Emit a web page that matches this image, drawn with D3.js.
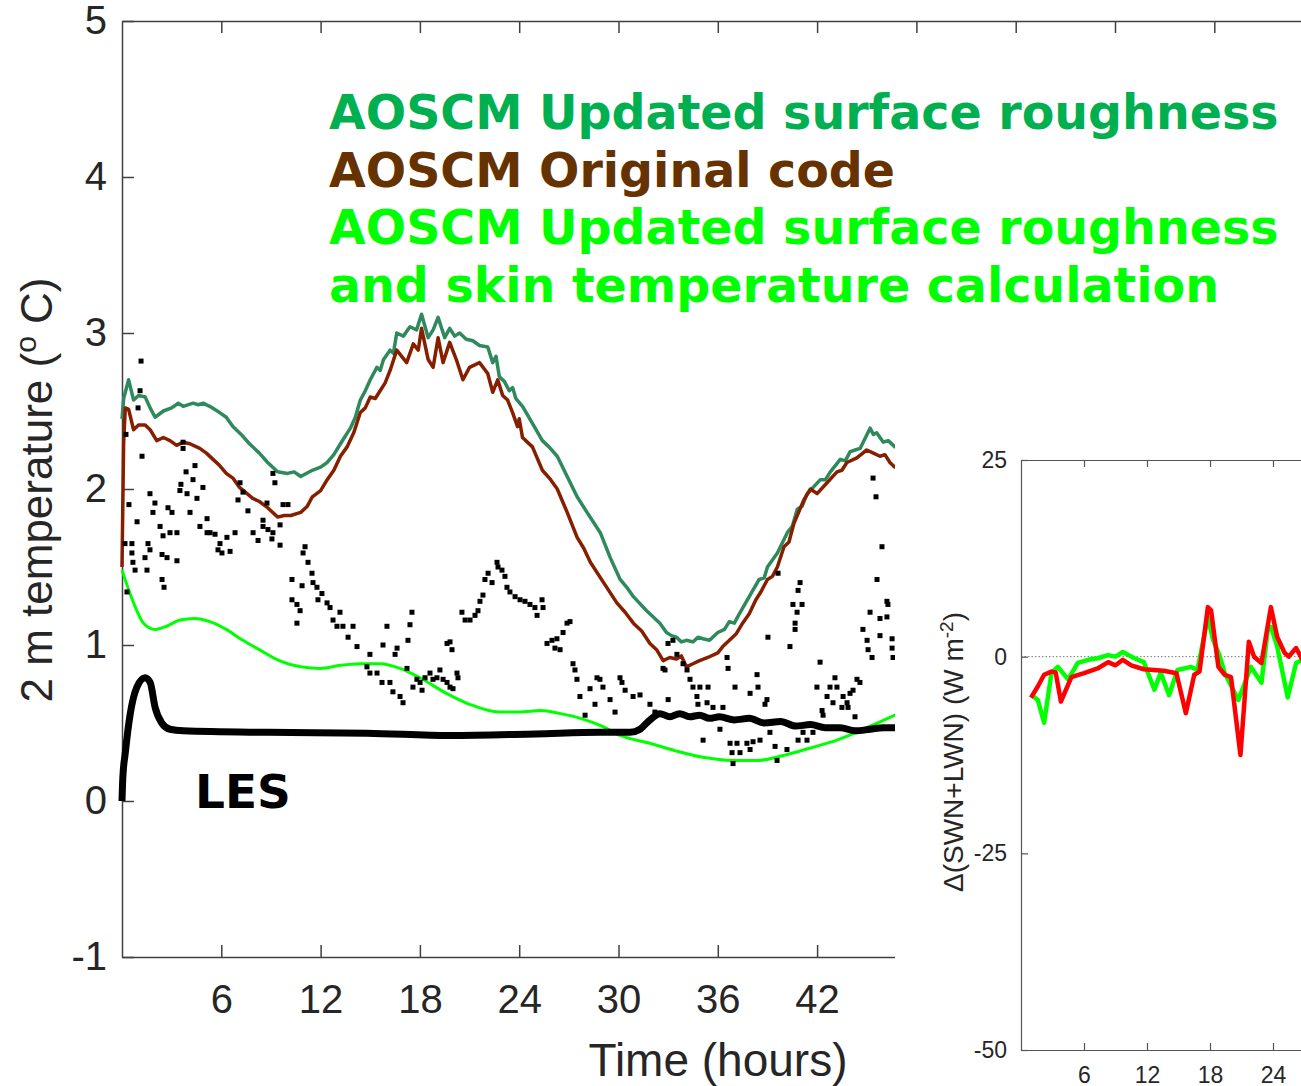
<!DOCTYPE html>
<meta charset="utf-8">

<!-- Load d3.js -->
<script src="https://d3js.org/d3.v7.min.js"></script>

<style>
    body { margin: 0; background: #fff; }
    svg { display: block; }
    .tick text { fill: #262626; }
</style>

<div id="chart"></div>

<script>
    // ---- main panel data: [hours, 2 m temperature (deg C)] ----
    const roughness = [
        [0, 2.45], [0.1, 2.58], [0.4, 2.70], [0.7, 2.57], [1.0, 2.60], [1.4, 2.59], [1.7, 2.52], [2.0, 2.46],
        [2.5, 2.50], [3.0, 2.52], [3.4, 2.55], [3.7, 2.53], [4.3, 2.55], [4.6, 2.54], [4.9, 2.55], [5.3, 2.53],
        [5.9, 2.49], [6.3, 2.46], [6.7, 2.40], [7.2, 2.35], [7.7, 2.29], [8.3, 2.23], [8.8, 2.17], [9.4, 2.11],
        [10.0, 2.10], [10.4, 2.11], [10.8, 2.08], [11.5, 2.12], [12.0, 2.14], [12.4, 2.17], [12.8, 2.22],
        [13.2, 2.29], [13.8, 2.39], [14.1, 2.46], [14.4, 2.57], [14.7, 2.63], [15.0, 2.70], [15.4, 2.78],
        [15.6, 2.76], [15.8, 2.83], [16.2, 2.89], [16.4, 2.87], [16.6, 3.00], [17.0, 2.98], [17.4, 3.04],
        [17.8, 3.02], [18.1, 3.12], [18.5, 2.97], [18.8, 3.02], [19.1, 3.10], [19.5, 2.97], [19.8, 3.03],
        [20.1, 2.98], [20.4, 3.00], [20.8, 2.96], [21.2, 2.95], [21.6, 2.92], [22.1, 2.91], [22.4, 2.81],
        [22.6, 2.85], [22.8, 2.72], [23.1, 2.69], [23.4, 2.63], [23.6, 2.65], [23.8, 2.58], [24.2, 2.53],
        [24.8, 2.42], [25.4, 2.31], [25.8, 2.27], [26.3, 2.21], [26.9, 2.08], [27.5, 1.95], [28.1, 1.85],
        [28.9, 1.72], [29.5, 1.56], [30.1, 1.42], [30.5, 1.37], [30.9, 1.31], [31.7, 1.22], [32.1, 1.18],
        [32.5, 1.14], [32.9, 1.08], [33.2, 1.06], [33.5, 1.05], [33.8, 1.02], [34.1, 1.03], [34.5, 1.02],
        [34.8, 1.05], [35.1, 1.04], [35.5, 1.03], [36.0, 1.08], [36.4, 1.10], [36.7, 1.15], [37.0, 1.14],
        [37.3, 1.20], [37.9, 1.31], [38.5, 1.42], [38.8, 1.43], [39.0, 1.50], [39.6, 1.59], [40.2, 1.72],
        [40.5, 1.76], [40.8, 1.87], [41.1, 1.89], [41.4, 1.97], [42.2, 2.06], [42.5, 2.06], [42.8, 2.11],
        [43.4, 2.19], [43.7, 2.18], [44.0, 2.24], [44.3, 2.25], [44.6, 2.26], [45.2, 2.39], [45.4, 2.35],
        [45.6, 2.36], [46.0, 2.30], [46.3, 2.31], [46.7, 2.27], [47.5, 2.25]
    ];

    const original = [
        [0, 1.50], [0.1, 2.30], [0.2, 2.52], [0.4, 2.51], [0.7, 2.38], [1.0, 2.41], [1.4, 2.41], [1.7, 2.38],
        [2.1, 2.31], [2.5, 2.33], [2.9, 2.31], [3.3, 2.28], [3.7, 2.30], [4.1, 2.29], [4.7, 2.26], [5.1, 2.23],
        [5.5, 2.19], [5.9, 2.15], [6.3, 2.10], [6.7, 2.07], [7.1, 2.01], [7.9, 1.94], [8.3, 1.92], [8.8, 1.88],
        [9.4, 1.82], [9.8, 1.83], [10.2, 1.83], [10.8, 1.85], [11.2, 1.89], [11.5, 1.95], [12.0, 1.99],
        [12.4, 2.06], [12.8, 2.12], [13.2, 2.21], [13.6, 2.27], [14.0, 2.36], [14.4, 2.49], [14.7, 2.52],
        [15.0, 2.59], [15.3, 2.58], [15.6, 2.63], [15.9, 2.68], [16.2, 2.76], [16.6, 2.89], [17.2, 2.81],
        [17.6, 2.93], [17.9, 2.89], [18.1, 3.03], [18.5, 2.83], [18.8, 2.78], [19.1, 2.97], [19.4, 2.81],
        [19.8, 2.94], [20.2, 2.83], [20.6, 2.70], [21.0, 2.78], [21.6, 2.81], [22.1, 2.74], [22.4, 2.62],
        [22.7, 2.70], [23.0, 2.60], [23.3, 2.57], [23.6, 2.49], [23.9, 2.40], [24.0, 2.45], [24.2, 2.33],
        [24.8, 2.27], [25.4, 2.12], [25.9, 2.06], [26.3, 2.00], [26.9, 1.85], [27.5, 1.69], [27.9, 1.62],
        [28.3, 1.53], [29.1, 1.40], [29.9, 1.27], [30.4, 1.21], [30.9, 1.14], [31.4, 1.09], [31.9, 1.01],
        [32.3, 0.97], [32.7, 0.90], [33.1, 0.92], [33.5, 0.91], [33.8, 0.93], [34.1, 0.86], [34.5, 0.88],
        [34.9, 0.90], [35.4, 0.92], [36.0, 0.95], [36.3, 0.99], [36.7, 1.03], [37.1, 1.07], [37.5, 1.14],
        [37.9, 1.20], [38.3, 1.29], [38.6, 1.34], [39.0, 1.42], [39.3, 1.44], [39.6, 1.50], [40.0, 1.63],
        [40.3, 1.66], [40.6, 1.78], [41.2, 1.93], [41.6, 2.00], [42.0, 1.97], [42.6, 2.04], [43.2, 2.11],
        [43.5, 2.12], [43.8, 2.17], [44.4, 2.20], [45.0, 2.25], [45.4, 2.23], [45.8, 2.21], [46.1, 2.22],
        [46.4, 2.17], [46.7, 2.14], [47.5, 2.12]
    ];

    const skinTemp = [
        [0, 1.48], [0.7, 1.27], [1.3, 1.14], [2.0, 1.10], [2.7, 1.12], [3.5, 1.16], [4.4, 1.17], [5.3, 1.15],
        [6.3, 1.10], [7.3, 1.03], [8.3, 0.97], [9.5, 0.90], [10.8, 0.86], [12.0, 0.85], [13.2, 0.87],
        [14.4, 0.88], [15.6, 0.88], [16.8, 0.85], [18.0, 0.79], [19.6, 0.69], [21.0, 0.62], [22.8, 0.57],
        [24.0, 0.57], [25.3, 0.58], [26.5, 0.56], [27.7, 0.53], [29.0, 0.48], [30.1, 0.42], [31.9, 0.37],
        [33.5, 0.32], [35.1, 0.28], [36.9, 0.26], [38.4, 0.26], [39.9, 0.29], [41.6, 0.34], [43.2, 0.39],
        [44.8, 0.46], [46.7, 0.55], [47.5, 0.59]
    ];

    const les = [
        [0, 0.0], [0.05, 0.15], [0.2, 0.31], [0.5, 0.56], [0.9, 0.73], [1.4, 0.79], [1.7, 0.76], [2.0, 0.60],
        [2.4, 0.50], [2.9, 0.46], [3.7, 0.45], [8.8, 0.44], [14.8, 0.435], [19.8, 0.42], [25.0, 0.43],
        [28.9, 0.44], [30.7, 0.44], [31.3, 0.46], [31.9, 0.52], [32.5, 0.56], [33.1, 0.54], [33.7, 0.56],
        [34.3, 0.54], [34.9, 0.55], [35.5, 0.53], [36.1, 0.54], [37.0, 0.52], [37.9, 0.53], [38.8, 0.50],
        [39.8, 0.51], [40.7, 0.48], [41.6, 0.49], [42.5, 0.47], [43.4, 0.47], [44.3, 0.45], [45.2, 0.46],
        [46.0, 0.47], [46.7, 0.47], [47.5, 0.47]
    ];

    // observations (black squares)
    const obs = [
        [1.15, 2.82], [1.09, 2.63], [0.97, 2.52], [1.21, 2.21], [0.24, 2.35], [3.69, 2.26], [3.69, 2.30],
        [4.41, 2.15], [3.87, 2.11], [3.56, 2.03], [4.29, 2.06], [3.93, 1.97], [3.50, 1.99], [4.89, 2.01],
        [4.53, 1.94], [1.69, 1.97], [0.42, 1.90], [1.99, 1.91], [1.87, 1.85], [2.78, 1.88], [3.02, 1.85],
        [4.11, 1.85], [0.91, 1.79], [2.30, 1.76], [2.90, 1.72], [3.32, 1.72], [2.48, 1.70], [5.14, 1.81],
        [4.71, 1.76], [5.14, 1.72], [5.62, 1.71], [6.34, 1.69], [6.83, 1.72], [0.60, 1.65], [1.57, 1.65],
        [5.92, 1.65], [7.13, 2.04], [7.31, 1.98], [7.01, 1.93], [7.61, 1.86], [8.52, 1.80], [8.76, 1.91],
        [9.12, 2.10], [9.24, 2.04], [9.73, 1.90], [10.03, 1.90], [9.55, 1.77], [8.82, 1.74], [7.92, 1.72],
        [8.22, 1.67], [9.06, 1.68], [9.55, 1.64], [11.06, 1.63], [5.32, 1.72], [5.80, 1.61], [6.04, 1.59],
        [6.53, 1.60], [8.52, 1.76], [9.12, 1.72], [0.18, 1.65], [0.60, 1.59], [0.66, 1.53], [0.79, 1.48],
        [1.39, 1.56], [1.51, 1.48], [1.69, 1.61], [2.42, 1.58], [2.72, 1.56], [3.32, 1.54], [2.42, 1.42],
        [2.54, 1.37], [0.30, 1.34], [10.94, 1.59], [11.24, 1.53], [11.48, 1.46], [11.54, 1.40], [11.78, 1.37],
        [11.84, 1.29], [12.08, 1.33], [12.39, 1.27], [12.57, 1.24], [10.27, 1.42], [10.88, 1.38], [10.27, 1.29],
        [10.57, 1.26], [10.76, 1.22], [10.57, 1.14], [12.75, 1.16], [12.99, 1.12], [13.35, 1.12], [13.66, 1.05],
        [13.96, 1.12], [14.20, 0.99], [13.17, 1.21], [14.98, 0.94], [14.80, 0.86], [14.98, 0.82], [15.41, 0.82],
        [15.71, 0.76], [16.01, 1.12], [15.77, 1.00], [16.62, 0.98], [16.50, 0.94], [16.19, 0.76], [16.37, 0.70],
        [16.80, 0.67], [16.98, 0.63], [17.22, 0.85], [17.28, 1.03], [17.40, 1.13], [17.52, 1.21], [17.82, 0.78],
        [17.58, 0.73], [18.13, 0.71], [18.31, 0.79], [18.61, 0.82], [18.79, 0.78], [19.21, 0.84], [19.03, 0.79],
        [19.64, 0.76], [19.64, 1.01], [19.82, 1.02], [19.94, 0.97], [18.01, 0.76], [19.40, 0.78], [19.82, 0.73],
        [20.24, 0.82], [20.30, 0.79], [20.00, 0.72], [20.54, 1.21], [20.73, 1.16], [21.03, 1.16], [21.33, 1.19],
        [21.51, 1.22], [21.63, 1.28], [21.81, 1.32], [21.93, 1.42], [22.12, 1.46], [22.36, 1.40], [22.66, 1.53],
        [22.72, 1.50], [22.96, 1.48], [23.14, 1.44], [23.26, 1.37], [23.44, 1.34], [23.75, 1.31], [24.05, 1.29],
        [24.35, 1.28], [24.65, 1.26], [24.95, 1.24], [25.08, 1.19], [25.38, 1.29], [25.44, 1.24], [25.68, 1.01],
        [25.98, 1.03], [26.16, 0.98], [26.28, 1.04], [26.47, 0.97], [26.65, 1.08], [26.89, 1.14], [27.07, 1.15],
        [27.25, 0.88], [27.37, 0.84], [27.49, 0.78], [27.67, 0.67], [28.70, 0.79], [28.88, 0.78], [29.06, 0.73],
        [30.09, 0.79], [30.21, 0.76], [30.88, 0.67], [32.69, 0.85], [32.99, 1.01], [33.29, 1.03], [33.53, 0.94],
        [33.90, 0.88], [34.14, 0.84], [34.32, 0.78], [34.50, 0.73], [32.81, 0.84], [34.92, 0.73], [35.41, 0.73],
        [34.74, 0.67], [34.80, 0.62], [35.35, 0.63], [35.71, 0.60], [36.31, 0.60], [36.56, 0.92], [36.62, 0.85],
        [37.04, 0.73], [37.95, 0.69], [38.37, 0.81], [38.43, 0.73], [39.03, 1.05], [38.97, 0.65], [38.85, 0.62],
        [39.64, 1.46], [35.11, 0.39], [36.13, 0.46], [36.74, 0.37], [37.16, 0.37], [36.86, 0.31], [37.34, 0.31],
        [37.76, 0.37], [37.95, 0.33], [36.92, 0.24], [38.13, 0.38], [38.55, 0.39], [39.15, 0.44], [39.46, 0.35],
        [39.58, 0.26], [40.18, 0.33], [40.36, 0.99], [40.54, 1.26], [40.79, 1.21], [40.67, 1.14], [40.67, 1.10],
        [40.85, 1.35], [40.97, 1.40], [41.09, 1.26], [42.18, 0.89], [41.99, 0.73], [42.60, 0.67], [42.78, 0.73],
        [43.08, 0.79], [43.20, 0.73], [42.30, 0.58], [42.36, 0.55], [42.96, 0.63], [43.57, 0.67], [43.81, 0.63],
        [43.99, 0.69], [44.17, 0.71], [44.41, 0.78], [44.59, 0.76], [43.87, 0.60], [43.50, 0.60], [44.29, 0.54],
        [44.77, 1.10], [45.02, 1.03], [45.08, 0.97], [45.32, 0.92], [45.20, 1.21], [45.38, 2.07], [45.56, 1.95],
        [45.92, 1.63], [45.62, 1.42], [46.22, 1.28], [46.28, 1.26], [45.80, 1.17], [46.22, 1.18], [45.80, 1.06],
        [46.53, 1.04], [46.53, 0.98], [46.59, 0.92], [41.39, 0.39], [41.15, 0.44], [41.75, 0.44], [40.85, 0.39],
        [29.49, 0.65], [30.40, 0.71], [31.30, 0.68], [31.90, 0.62], [28.58, 0.62], [27.98, 0.55], [28.28, 0.72],
        [29.79, 0.57], [32.20, 0.57], [33.00, 0.65]
    ];

    const mainXTicks = [6, 12, 18, 24, 30, 36, 42, 48, 54, 60, 66];
    const mainYTicks = [-1, 0, 1, 2, 3, 4, 5];

    const legendLines = [
        {text: "AOSCM Updated surface roughness", color: "#00b050"},
        {text: "AOSCM Original code", color: "#663300"},
        {text: "AOSCM Updated surface roughness", color: "#00ff00"},
        {text: "and skin temperature calculation", color: "#00ff00"}
    ];

    // ---- inset data: [hours, delta(SWN+LWN) (W m-2)] ----
    const insetRed = [
        [0.95, -5.2], [1.6, -3.8], [2.2, -2.3], [2.9, -1.9], [3.3, -2.0], [3.8, -5.7], [4.8, -2.6], [6.0, -2.1],
        [7.3, -1.5], [8.3, -0.7], [9.0, -1.1], [9.7, -0.4], [10.5, -1.1], [11.7, -1.6], [13.6, -1.8],
        [14.8, -2.1], [15.7, -7.2], [16.5, -2.3], [17.0, -1.9], [17.8, 6.3], [18.1, 5.9], [18.8, -1.3],
        [19.4, -2.3], [20.0, -2.6], [20.9, -12.5], [21.7, 1.9], [22.2, 0.0], [22.9, -0.8], [23.8, 6.3],
        [24.4, 2.5], [25.1, 0.5], [25.5, 0.0], [26.2, 1.1], [26.8, -0.4], [28.0, -1.0]
    ];
    const insetGreen = [
        [0.95, -4.8], [1.6, -5.5], [2.2, -8.4], [2.9, -2.1], [3.5, -1.3], [4.5, -2.9], [5.4, -0.8], [6.4, -0.4],
        [7.3, -0.2], [8.3, 0.2], [9.0, 0.0], [9.7, 0.6], [10.8, -0.2], [11.7, -0.7], [12.7, -4.2], [13.3, -2.0],
        [14.1, -4.9], [14.9, -1.7], [16.2, -1.3], [16.8, -1.7], [17.8, 5.0], [18.3, 2.1], [18.9, 0.2],
        [19.4, -2.1], [20.7, -5.5], [21.9, -1.3], [22.9, -3.3], [23.5, 3.4], [23.8, 3.8], [24.4, 1.3],
        [25.4, -5.2], [26.2, -0.8], [26.8, -0.4], [28.0, -1.0]
    ];
    const insetXTicks = [6, 12, 18, 24, 30, 36, 42];
    const insetYTicks = [-50, -25, 0, 25];

    const width = 1301, height = 1086;
    const fmt = d => String(d);

    const svg = d3.select("#chart")
                .append("svg")
                .attr("width", width)
                .attr("height", height)
                .style("font-family", "'Liberation Sans', Arial, sans-serif");

    // Main scales
    const x = d3.scaleLinear().domain([0, 72]).range([122, 122 + 72 * 16.55]);
    const y = d3.scaleLinear().domain([-1, 5]).range([957, 21]);

    const line = d3.line().x(d => x(d[0])).y(d => y(d[1]));

    // Add axes
    const gx = svg.append("g")
        .attr("transform", `translate(0, ${y(-1)})`)
        .call(d3.axisBottom(x).tickValues(mainXTicks).tickFormat(fmt)
            .tickSizeInner(-12).tickSizeOuter(0).tickPadding(28));
    svg.append("g")
        .attr("transform", `translate(0, ${y(5)})`)
        .call(d3.axisTop(x).tickValues(mainXTicks).tickSizeInner(-12).tickSizeOuter(0).tickFormat(""));
    const gy = svg.append("g")
        .attr("transform", `translate(${x(0)}, 0)`)
        .call(d3.axisLeft(y).tickValues(mainYTicks).tickFormat(fmt)
            .tickSizeInner(-12).tickSizeOuter(0).tickPadding(15));

    svg.selectAll(".domain").attr("stroke", "#404040").attr("stroke-width", 1.5);
    svg.selectAll(".tick line").attr("stroke", "#404040").attr("stroke-width", 1.5);
    gx.selectAll("text").style("font-size", "40px");
    gy.selectAll("text").style("font-size", "40px");

    // axis labels
    svg.append("text")
        .attr("x", 718).attr("y", 1076)
        .attr("text-anchor", "middle")
        .style("font-size", "46px").attr("fill", "#262626")
        .text("Time (hours)");

    const ylab = svg.append("text")
        .attr("transform", "translate(52, 490) rotate(-90)")
        .attr("text-anchor", "middle")
        .style("font-size", "44px").attr("fill", "#262626");
    ylab.append("tspan").text("2 m temperature (");
    ylab.append("tspan").attr("baseline-shift", "super").style("font-size", "30px").text("o");
    ylab.append("tspan").text(" C)");

    // lines
    svg.append("path").datum(skinTemp)
        .attr("fill", "none").attr("stroke", "#00ff00").attr("stroke-width", 3)
        .attr("d", line.curve(d3.curveMonotoneX));
    line.curve(d3.curveLinear);
    svg.append("path").datum(roughness)
        .attr("fill", "none").attr("stroke", "#2e8a5c").attr("stroke-width", 3.5)
        .attr("stroke-linejoin", "round")
        .attr("d", line);
    svg.append("path").datum(original)
        .attr("fill", "none").attr("stroke", "#861f00").attr("stroke-width", 3.5)
        .attr("stroke-linejoin", "round")
        .attr("d", line);
    svg.append("path").datum(les)
        .attr("fill", "none").attr("stroke", "#000").attr("stroke-width", 7)
        .attr("stroke-linejoin", "round")
        .attr("d", line.curve(d3.curveMonotoneX));

    // observations
    svg.append("g")
        .selectAll("rect")
        .data(obs)
        .join("rect")
            .attr("x", d => x(d[0]) - 2.5)
            .attr("y", d => y(d[1]) - 2.5)
            .attr("width", 5)
            .attr("height", 5)
            .attr("fill", "#000");

    svg.append("text")
        .attr("x", 195).attr("y", 808)
        .style("font-family", "'DejaVu Sans', Verdana, sans-serif")
        .style("font-weight", "bold").style("font-size", "47px")
        .attr("fill", "#000")
        .text("LES");

    // legend text
    svg.append("g")
        .selectAll("text")
        .data(legendLines)
        .join("text")
            .attr("x", 329)
            .attr("y", (d, i) => 129 + i * 57.5)
            .style("font-family", "'DejaVu Sans', Verdana, sans-serif")
            .style("font-weight", "bold")
            .style("font-size", "47.5px")
            .attr("fill", d => d.color)
            .text(d => d.text);

    // white panel behind the inset
    svg.append("rect")
        .attr("x", 895).attr("y", 330)
        .attr("width", width - 895).attr("height", height - 330)
        .attr("fill", "#fff");

    // ---- inset ----
    const xi = d3.scaleLinear().domain([0, 48]).range([1021, 1021 + 48 * 10.5]);
    const yi = d3.scaleLinear().domain([-50, 25]).range([1050, 460]);
    const lineI = d3.line().x(d => xi(d[0])).y(d => yi(d[1]));

    const ins = svg.append("g");
    ins.append("line")
        .attr("x1", xi(0)).attr("x2", width)
        .attr("y1", yi(0)).attr("y2", yi(0))
        .attr("stroke", "#777").attr("stroke-width", 1)
        .attr("stroke-dasharray", "1.5,2");

    const gxi = ins.append("g")
        .attr("transform", `translate(0, ${yi(-50)})`)
        .call(d3.axisBottom(xi).tickValues(insetXTicks).tickFormat(fmt)
            .tickSizeInner(-7).tickSizeOuter(0).tickPadding(17));
    ins.append("g")
        .attr("transform", `translate(0, ${yi(25)})`)
        .call(d3.axisTop(xi).tickValues(insetXTicks).tickSizeInner(-7).tickSizeOuter(0).tickFormat(""));
    const gyi = ins.append("g")
        .attr("transform", `translate(${xi(0)}, 0)`)
        .call(d3.axisLeft(yi).tickValues(insetYTicks).tickFormat(fmt)
            .tickSizeInner(-7).tickSizeOuter(0).tickPadding(14));
    ins.selectAll(".domain").attr("stroke", "#555").attr("stroke-width", 1.2);
    ins.selectAll(".tick line").attr("stroke", "#555").attr("stroke-width", 1.2);
    gxi.selectAll("text").style("font-size", "23px");
    gyi.selectAll("text").style("font-size", "23px");

    const ylabI = ins.append("text")
        .attr("transform", "translate(963, 752) rotate(-90)")
        .attr("text-anchor", "middle")
        .style("font-size", "28px").attr("fill", "#262626");
    ylabI.append("tspan").text("\u0394(SWN+LWN) (W m");
    ylabI.append("tspan").attr("baseline-shift", "super").style("font-size", "19px").text("-2");
    ylabI.append("tspan").text(")");

    ins.append("path").datum(insetGreen)
        .attr("fill", "none").attr("stroke", "#00ff00").attr("stroke-width", 4.5)
        .attr("stroke-linejoin", "round")
        .attr("d", lineI);
    ins.append("path").datum(insetRed)
        .attr("fill", "none").attr("stroke", "#ff0000").attr("stroke-width", 4.5)
        .attr("stroke-linejoin", "round")
        .attr("d", lineI);
</script>
